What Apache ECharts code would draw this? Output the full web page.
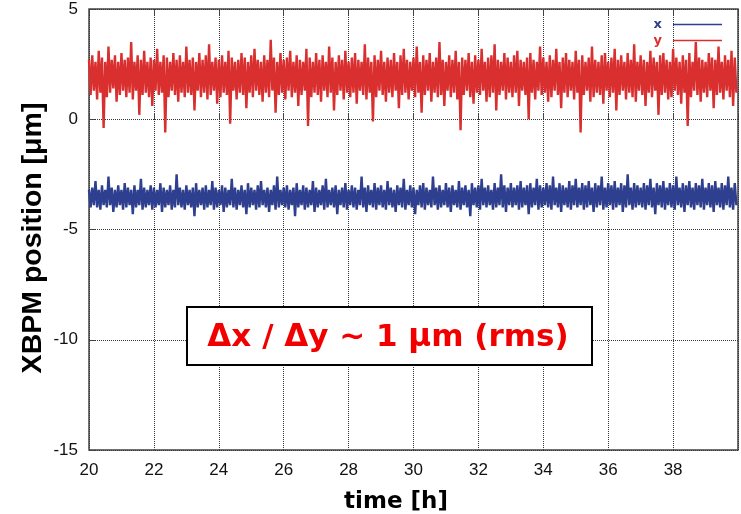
<!DOCTYPE html>
<html>
<head>
<meta charset="utf-8">
<script src="https://cdn.jsdelivr.net/npm/echarts@6/dist/echarts.min.js"></script>
<style>html,body{margin:0;padding:0;background:#fff}#c{width:741px;height:514px}</style>
</head>
<body>
<div id="c"></div>
<script>
// time axis: samples start at 20 h, one every 0.05 h
const timeStart = 20;
const timeStep = 0.05;
const xTicks = [20, 22, 24, 26, 28, 30, 32, 34, 36, 38];
const yTicks = [5, 0, -5, -10, -15];
const seriesNames = ['x', 'y'];

// y position [µm] (red)
const yValues = [
2.7,1.1,2.9,1.3,2.6,0.9,3.1,1.2,2.8,-0.4,2.6,1.0,3.3,1.2,2.7,1.4,2.9,0.8,2.6,1.1,
3.0,1.3,2.7,1.0,2.8,1.2,3.5,0.9,2.6,1.3,2.9,0.2,2.7,1.1,3.1,1.2,2.6,1.0,2.8,0.6,
2.7,1.3,3.2,1.1,2.6,1.2,2.9,-0.6,2.8,1.0,2.6,1.3,3.0,1.1,2.7,0.8,2.9,1.2,2.6,1.0,
3.3,1.2,2.7,1.1,2.8,0.4,2.6,1.3,3.0,1.0,2.7,1.2,2.9,0.9,3.4,1.1,2.6,1.3,2.8,0.7,
2.7,1.0,2.9,1.2,2.6,1.1,3.1,-0.2,2.8,1.3,2.6,0.9,2.7,1.2,3.0,1.1,2.8,0.5,2.6,1.2,
2.9,1.0,3.2,1.3,2.7,1.1,2.6,0.8,2.9,1.2,2.7,1.0,3.6,1.3,2.8,0.3,2.6,1.1,3.0,1.2,
2.7,0.9,2.8,1.3,3.1,1.0,2.6,1.2,2.9,0.6,2.7,1.1,2.6,1.3,3.2,-0.3,2.8,1.0,2.6,1.2,
3.0,1.1,2.7,0.8,2.9,1.3,2.6,1.0,3.3,1.2,2.8,0.4,2.6,1.1,2.9,1.3,2.7,0.9,3.1,1.2,
2.6,1.0,2.8,1.2,3.0,0.7,2.7,1.3,2.6,1.1,3.4,0.9,2.8,1.2,2.6,-0.1,2.9,1.0,2.7,1.3,
3.1,1.1,2.6,0.8,2.8,1.2,2.7,1.0,3.0,1.3,2.6,0.5,2.9,1.1,3.2,1.2,2.7,0.9,2.6,1.3,
2.8,1.0,3.3,1.2,2.6,0.3,2.9,1.1,2.7,1.3,3.0,0.8,2.6,1.2,2.8,1.0,3.5,1.1,2.7,0.6,
2.6,1.3,2.9,1.0,2.7,1.2,3.1,0.9,2.6,-0.5,2.8,1.1,2.7,1.3,3.0,1.0,2.6,0.7,2.9,1.2,
2.7,1.1,3.2,1.3,2.6,0.8,2.8,1.0,2.9,1.2,3.4,0.4,2.7,1.1,2.6,1.3,3.0,0.9,2.8,1.2,
2.6,1.0,2.9,1.2,3.1,0.6,2.7,1.3,2.6,1.1,2.8,0.0,3.0,1.2,2.7,0.9,2.6,1.3,3.3,1.1,
2.8,1.2,2.6,0.8,2.9,1.0,2.7,1.3,3.2,1.1,2.6,0.5,2.8,1.2,3.0,1.0,2.7,1.3,2.6,0.9,
3.1,1.2,2.7,-0.6,2.9,1.1,2.6,1.3,2.8,0.8,3.3,1.0,2.7,1.2,2.6,1.1,2.9,0.7,3.0,1.3,
2.6,1.0,2.8,1.2,3.2,0.4,2.7,1.1,2.9,1.3,2.6,0.9,3.0,1.2,2.7,1.0,3.4,0.8,2.6,1.3,
2.9,1.1,2.7,0.6,2.6,1.2,3.1,1.0,2.8,1.3,2.6,0.2,2.9,1.1,3.0,1.2,2.7,0.9,2.6,1.0,
3.2,1.3,2.8,1.1,2.6,0.7,2.9,1.2,2.7,-0.3,3.0,1.0,2.6,1.3,3.5,1.1,2.8,0.8,2.7,1.2,
2.6,1.0,3.0,1.3,2.8,0.5,2.7,1.1,3.3,1.2,2.6,0.9,2.9,1.3,2.7,1.0,3.1,0.6,2.8,1.2
];

// x position [µm] (blue)
const xValues = [
-3.2,-4.0,-3.1,-3.9,-2.8,-4.0,-3.2,-4.1,-3.0,-3.9,-3.2,-4.0,-2.6,-3.9,-3.1,-4.2,-3.2,-4.0,-3.0,-3.9,
-3.2,-4.1,-2.9,-4.0,-3.1,-3.9,-3.2,-4.3,-3.0,-4.0,-3.2,-3.9,-2.7,-4.1,-3.1,-4.0,-3.2,-3.9,-3.0,-4.1,
-3.1,-4.0,-3.2,-3.9,-2.9,-4.2,-3.1,-4.0,-3.2,-3.9,-3.0,-4.1,-3.2,-4.0,-2.5,-3.9,-3.1,-4.0,-3.2,-4.1,
-3.0,-3.9,-3.2,-4.0,-3.1,-4.4,-2.9,-4.0,-3.2,-3.9,-3.1,-4.1,-3.0,-4.0,-3.2,-3.9,-2.8,-4.1,-3.1,-4.0,
-3.2,-3.9,-3.0,-4.2,-3.1,-4.0,-3.2,-3.9,-2.7,-4.0,-3.1,-4.1,-3.2,-3.9,-3.0,-4.0,-3.2,-4.3,-2.9,-4.0,
-3.1,-3.9,-3.2,-4.1,-3.0,-4.0,-2.8,-3.9,-3.2,-4.0,-3.1,-4.2,-3.2,-3.9,-3.0,-4.1,-2.6,-4.0,-3.2,-3.9,
-3.1,-4.0,-3.0,-4.1,-3.2,-3.9,-3.1,-4.4,-2.9,-4.0,-3.2,-3.9,-3.0,-4.1,-3.1,-4.0,-3.2,-3.9,-2.8,-4.2,
-3.1,-4.0,-3.2,-3.9,-3.0,-4.1,-2.7,-4.0,-3.2,-3.9,-3.1,-4.0,-3.0,-4.3,-3.2,-3.9,-3.1,-4.0,-2.9,-4.1,
-3.2,-3.9,-3.0,-4.0,-3.1,-4.1,-3.2,-3.9,-2.6,-4.0,-3.1,-4.2,-3.0,-3.9,-3.2,-4.0,-2.9,-4.1,-3.1,-3.9,
-3.0,-4.0,-3.2,-4.1,-2.8,-3.9,-3.1,-4.0,-3.2,-4.2,-3.0,-3.9,-3.1,-4.0,-2.7,-4.1,-3.2,-3.9,-3.0,-4.0,
-3.1,-4.3,-3.2,-3.9,-3.0,-4.0,-2.9,-4.1,-3.1,-3.9,-3.2,-4.0,-2.6,-3.9,-3.1,-4.1,-3.0,-4.0,-3.2,-3.9,
-2.9,-4.0,-3.1,-4.2,-3.0,-3.9,-3.2,-4.0,-2.8,-4.1,-3.1,-3.9,-3.0,-4.0,-3.2,-4.4,-2.9,-3.9,-3.1,-4.0,
-3.0,-4.1,-2.7,-3.9,-3.1,-4.0,-3.0,-3.9,-3.2,-4.1,-2.9,-4.0,-3.1,-3.9,-2.5,-4.0,-3.0,-4.2,-3.1,-3.9,
-2.9,-4.0,-3.1,-3.9,-3.0,-4.1,-2.8,-4.0,-3.1,-3.9,-3.0,-4.3,-2.9,-4.0,-3.1,-3.9,-2.7,-4.1,-3.0,-4.0,
-3.1,-3.9,-2.9,-4.0,-3.0,-4.1,-2.6,-3.9,-3.1,-4.0,-2.9,-4.2,-3.0,-3.9,-3.1,-4.0,-2.8,-4.1,-3.0,-3.9,
-2.7,-4.0,-3.1,-3.9,-2.9,-4.1,-3.0,-4.0,-2.8,-3.9,-3.1,-4.2,-2.9,-4.0,-3.0,-3.9,-2.6,-4.1,-3.1,-4.0,
-2.9,-3.9,-3.0,-4.1,-2.8,-4.0,-3.1,-3.9,-2.9,-4.2,-3.0,-4.0,-2.5,-3.9,-3.1,-4.1,-2.9,-4.0,-3.0,-3.9,
-3.1,-4.0,-2.9,-4.1,-3.0,-3.9,-2.7,-4.0,-3.1,-4.3,-2.9,-3.9,-3.0,-4.0,-2.8,-4.1,-3.1,-3.9,-2.9,-4.0,
-3.0,-4.1,-2.6,-3.9,-3.1,-4.0,-2.9,-4.2,-3.0,-3.9,-2.8,-4.0,-3.1,-4.1,-2.9,-3.9,-3.0,-4.0,-2.7,-4.1,
-3.1,-3.9,-2.9,-4.0,-3.0,-4.2,-2.8,-3.9,-3.1,-4.0,-2.9,-4.1,-3.0,-3.9,-2.6,-4.0,-3.1,-4.1,-2.9,-3.9
];

const BLUE = '#2e3f8f';
const RED = '#d9302f';

function pairs(vals) {
  return vals.map((v, i) => [timeStart + i * timeStep, v]);
}

const chart = echarts.init(document.getElementById('c'), null, {renderer: 'canvas'});
const gridLine = {show: true, lineStyle: {color: '#333', type: 'dotted', width: 1}};
chart.setOption({
  animation: false,
  backgroundColor: '#fff',
  grid: {left: 89, top: 9, width: 689, height: 441, show: true, borderColor: '#444', borderWidth: 1.5, containLabel: false},
  legend: {
    right: 14, top: 13, orient: 'vertical', align: 'right',
    itemWidth: 49, itemHeight: 1.5, itemGap: 3, icon: 'rect',
    textStyle: {fontSize: 13, fontWeight: 'bold', fontFamily: 'DejaVu Sans', padding: [0, 6, 0, 0]},
    data: [
      {name: seriesNames[0], textStyle: {color: BLUE}},
      {name: seriesNames[1], textStyle: {color: RED}}
    ]
  },
  xAxis: [{
    type: 'value', min: 20, max: 40, interval: 2, position: 'bottom',
    axisLine: {show: false},
    axisTick: {show: true, inside: true, length: 6, lineStyle: {color: '#444', width: 1}},
    axisLabel: {
      margin: 12, color: '#111', fontSize: 17, fontFamily: 'Liberation Sans',
      formatter: v => xTicks.indexOf(v) >= 0 ? String(v) : ''
    },
    splitLine: gridLine
  }, {
    type: 'value', min: 20, max: 40, interval: 2, position: 'top',
    axisLine: {show: false},
    axisTick: {show: true, inside: true, length: 6, lineStyle: {color: '#444', width: 1}},
    axisLabel: {show: false}, splitLine: {show: false}
  }],
  yAxis: {
    type: 'value', min: -15, max: 5, interval: 5,
    axisLine: {show: false},
    axisTick: {show: true, inside: true, length: 6, lineStyle: {color: '#444', width: 1}},
    axisLabel: {
      margin: 11, color: '#111', fontSize: 17, fontFamily: 'Liberation Sans',
      formatter: v => yTicks.indexOf(v) >= 0 ? String(v) : ''
    },
    splitLine: gridLine
  },
  series: [
    {name: seriesNames[0], type: 'line', data: pairs(xValues), showSymbol: false, symbol: 'none',
     lineStyle: {color: BLUE, width: 2.4}, itemStyle: {color: BLUE}, sampling: null, z: 3},
    {name: seriesNames[1], type: 'line', data: pairs(yValues), showSymbol: false, symbol: 'none',
     lineStyle: {color: RED, width: 2.4}, itemStyle: {color: RED}, sampling: null, z: 3}
  ],
  graphic: [
    {type: 'rect', z: 100, shape: {x: 187, y: 307, width: 405, height: 58},
     style: {fill: '#fff', stroke: '#000', lineWidth: 2}},
    {type: 'text', z: 101, x: 388, y: 338,
     style: {text: 'Δx / Δy ~ 1 μm (rms)', font: 'bold 31px "DejaVu Sans"', fill: '#f20000', align: 'center', verticalAlign: 'middle'}},
    {type: 'text', z: 101, x: 33, y: 238, rotation: Math.PI / 2,
     style: {text: 'XBPM position [μm]', font: 'bold 28.5px "Liberation Sans"', fill: '#000', align: 'center', verticalAlign: 'middle'}},
    {type: 'text', z: 101, x: 396, y: 502,
     style: {text: 'time [h]', font: 'bold 23px "DejaVu Sans"', fill: '#000', align: 'center', verticalAlign: 'middle'}}
  ]
});
</script>
</body>
</html>
